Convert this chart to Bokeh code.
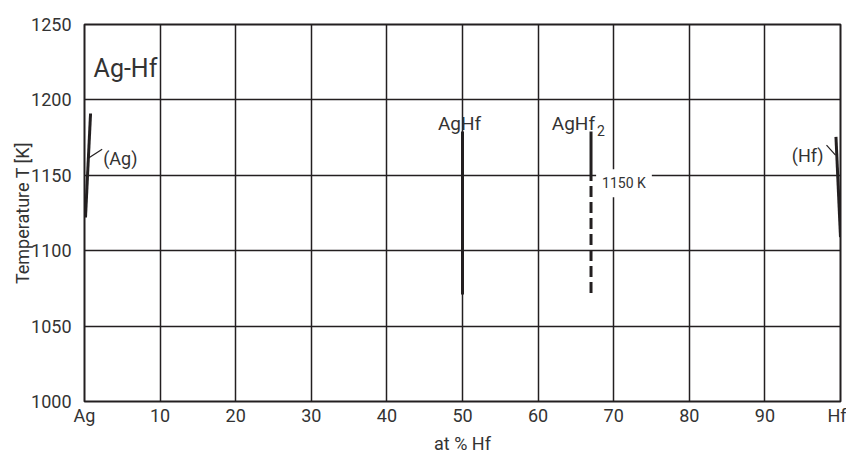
from bokeh.plotting import figure
from bokeh.models import FixedTicker, Label
from bokeh.embed import file_html
from bokeh.resources import INLINE

# ---- data (composition in at % Hf, temperature in K) ----
x_ticks = [0, 10, 20, 30, 40, 50, 60, 70, 80, 90, 100]
x_tick_labels = ["Ag", "10", "20", "30", "40", "50", "60", "70", "80", "90", "Hf"]
y_ticks = [1000, 1050, 1100, 1150, 1200, 1250]

ag_x = [0.13, 0.8]
ag_T = [1122, 1191]
ag_leader_x = [0.44, 2.34]
ag_leader_T = [1161.2, 1167.3]

aghf_x = [50, 50]
aghf_T = [1071, 1179]

aghf2_x_solid = [67, 67]
aghf2_T_solid = [1150, 1179]
aghf2_x_dash = [67, 67]
aghf2_T_dash = [1072, 1150]

hf_x = [99.4, 100]
hf_T = [1175.5, 1109]
hf_leader_x = [98.15, 99.34]
hf_leader_T = [1170, 1163.4]

iso_T = 1150

FONT = "Roboto"
TXT = "#333333"
LINE = "#231f20"

p = figure(width=846, height=456, x_range=(0, 100), y_range=(1000, 1250),
           output_backend="svg", toolbar_location=None,
           min_border_left=84, min_border_right=6, min_border_top=24, min_border_bottom=54)

p.outline_line_color = LINE
p.outline_line_width = 2
p.background_fill_color = "white"
p.border_fill_color = "white"

for ax in (p.xaxis[0], p.yaxis[0]):
    ax.major_tick_line_color = None
    ax.minor_tick_line_color = None
    ax.axis_line_color = None
    ax.major_label_text_font = FONT
    ax.major_label_text_font_size = "18px"
    ax.major_label_text_color = TXT
    ax.major_label_text_line_height = 0.7
    ax.axis_label_text_font = FONT
    ax.axis_label_text_font_size = "18px"
    ax.axis_label_text_font_style = "normal"
    ax.axis_label_text_color = TXT
    ax.axis_label_text_line_height = 0.7

p.xaxis.ticker = FixedTicker(ticks=x_ticks)
p.xaxis.major_label_overrides = {t: l for t, l in zip(x_ticks, x_tick_labels)}
p.yaxis.ticker = FixedTicker(ticks=y_ticks)
p.xaxis.axis_label = "at % Hf"
p.yaxis.axis_label = "Temperature T [K]"
p.xaxis.major_label_standoff = -3
p.xaxis.axis_label_standoff = 4
p.yaxis.major_label_standoff = 7
p.yaxis.axis_label_standoff = -5

for g in (p.xgrid[0], p.ygrid[0]):
    g.grid_line_color = LINE
    g.grid_line_width = 1.5
    g.grid_line_alpha = 1.0

# phase lines
p.line(ag_x, ag_T, line_color=LINE, line_width=3)
p.line(ag_leader_x, ag_leader_T, line_color=LINE, line_width=1.2)
p.line(aghf_x, aghf_T, line_color=LINE, line_width=3)
p.line(aghf2_x_solid, aghf2_T_solid, line_color=LINE, line_width=3)
p.line(aghf2_x_dash, aghf2_T_dash, line_color=LINE, line_width=3, line_dash="11 5")
p.line(hf_x, hf_T, line_color=LINE, line_width=3)
p.line(hf_leader_x, hf_leader_T, line_color=LINE, line_width=1.2)


def lab(x, y, text, size, align="left", baseline="alphabetic", xo=0, yo=0, **kw):
    l = Label(x=x, y=y, text=text, text_font=FONT, text_font_size=size,
              text_color=TXT, text_align=align, text_baseline=baseline,
              x_offset=xo, y_offset=yo, **kw)
    p.add_layout(l)
    return l


lab(1.2, 1220.9, "Ag-Hf", "25px")
lab(ag_leader_x[1], ag_leader_T[0], "(Ag)", "18px", xo=1)
lab(hf_leader_x[0], hf_leader_T[1], "(Hf)", "18px", align="right", xo=-3)
lab(aghf_x[0], aghf_T[1], "AgHf", "19px", align="center", xo=-3, yo=8)
lab(aghf2_x_solid[0], aghf2_T_solid[1], "AgHf", "19px", align="right", xo=4, yo=8)
lab(aghf2_x_solid[0], aghf2_T_solid[1], "2", "14px", align="left", xo=6, yo=1)
lab(71.36, iso_T, "1150 K", "14px", align="center", baseline="middle", yo=-8,
    background_fill_color="white", padding=6)

open("out.html", "w").write(file_html(p, INLINE))
